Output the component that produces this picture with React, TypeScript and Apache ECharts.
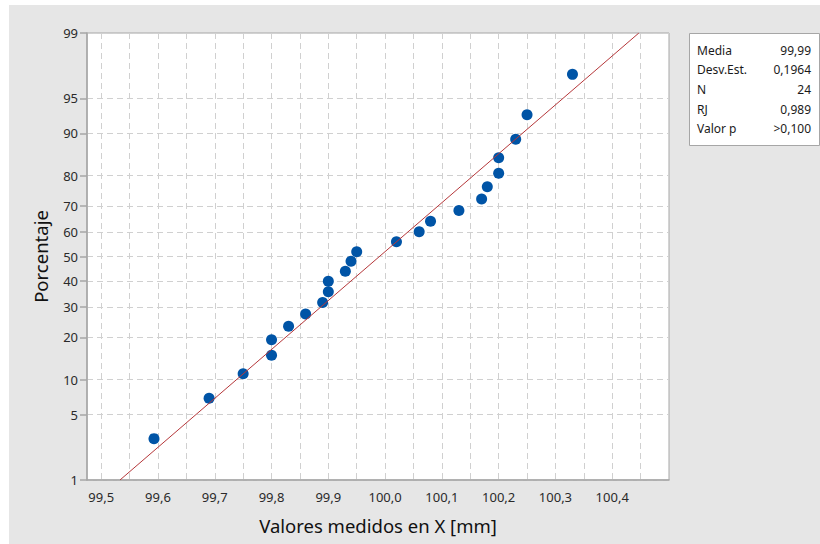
import React, { useEffect, useRef } from "react";
import * as echarts from "echarts";

// Data
const measuredValues = [
  99.593, 99.69, 99.75, 99.80, 99.80, 99.83, 99.86, 99.89, 99.90, 99.90, 99.93, 99.94,
  99.95, 100.02, 100.06, 100.08, 100.13, 100.17, 100.18, 100.20, 100.20, 100.23, 100.25, 100.33,
];
const percentValues = [
  2.9, 7.0, 11.1, 15.2, 19.3, 23.4, 27.5, 31.6, 35.7, 39.8, 43.9, 48.0,
  52.0, 56.1, 60.2, 64.3, 68.4, 72.5, 76.6, 80.7, 84.8, 88.9, 93.0, 97.1,
];
const percentTicks = [1, 5, 10, 20, 30, 40, 50, 60, 70, 80, 90, 95, 99];
const xLabelTicks = [99.5, 99.6, 99.7, 99.8, 99.9, 100.0, 100.1, 100.2, 100.3, 100.4];
const xGridTicks = [
  99.5, 99.55, 99.6, 99.65, 99.7, 99.75, 99.8, 99.85, 99.9, 99.95, 100.0,
  100.05, 100.1, 100.15, 100.2, 100.25, 100.3, 100.35, 100.4, 100.45,
];
const statLabels = ["Media", "Desv.Est.", "N", "RJ", "Valor p"];
const statValues = ["99,99", "0,1964", "24", "0,989", ">0,100"];
const fitMean = 99.99;
const fitSd = 0.1964;

// inverse standard normal CDF (Acklam)
function invNorm(p: number): number {
  const a = [-3.969683028665376e1, 2.209460984245205e2, -2.759285104469687e2, 1.38357751867269e2, -3.066479806614716e1, 2.506628277459239];
  const b = [-5.447609879822406e1, 1.615858368580409e2, -1.556989798598866e2, 6.680131188771972e1, -1.328068155288572e1];
  const c = [-7.784894002430293e-3, -3.223964580411365e-1, -2.400758277161838, -2.549732539343734, 4.374664141464968, 2.938163982698783];
  const d = [7.784695709041462e-3, 3.224671290700398e-1, 2.445134137142996, 3.754408661907416];
  const pl = 0.02425;
  if (p < pl) {
    const q = Math.sqrt(-2 * Math.log(p));
    return (((((c[0] * q + c[1]) * q + c[2]) * q + c[3]) * q + c[4]) * q + c[5]) / ((((d[0] * q + d[1]) * q + d[2]) * q + d[3]) * q + 1);
  }
  if (p > 1 - pl) {
    const q = Math.sqrt(-2 * Math.log(1 - p));
    return -(((((c[0] * q + c[1]) * q + c[2]) * q + c[3]) * q + c[4]) * q + c[5]) / ((((d[0] * q + d[1]) * q + d[2]) * q + d[3]) * q + 1);
  }
  const q = p - 0.5;
  const r = q * q;
  return ((((((a[0] * r + a[1]) * r + a[2]) * r + a[3]) * r + a[4]) * r + a[5]) * q) / (((((b[0] * r + b[1]) * r + b[2]) * r + b[3]) * r + b[4]) * r + 1);
}

export default function App() {
  const ref = useRef<HTMLDivElement>(null);
  useEffect(() => {
    if (!ref.current) return;
    const chart = echarts.init(ref.current, undefined, { renderer: "svg" });
    const zTicks = percentTicks.map((p) => invNorm(p / 100));
    const zLo = invNorm(0.01);
    const zHi = invNorm(0.99);
    const labelForZ = (v: number) => {
      let best = 0;
      let bd = Infinity;
      zTicks.forEach((z, i) => {
        const dd = Math.abs(z - v);
        if (dd < bd) { bd = dd; best = i; }
      });
      return String(percentTicks[best]);
    };
    const font = "'Noto Sans', 'Open Sans', sans-serif";
    const gridLine = { show: true, lineStyle: { color: "#d0d0d0", type: [6, 4] as any, width: 1 } };
    const points = measuredValues.map((x, i) => [x, invNorm(percentValues[i] / 100)]);
    const fitLine = [
      [fitMean + zLo * fitSd, zLo],
      [fitMean + zHi * fitSd, zHi],
    ];
    const boxX = 680, boxY = 28, boxW = 130, boxH = 112;
    const statTexts: any[] = [];
    statLabels.forEach((l, i) => {
      statTexts.push({
        type: "text", left: boxX + 8, top: boxY + 11 + i * 19.7,
        style: { text: l, fontSize: 12, fontFamily: font, fill: "#1a1a1a" },
      });
      statTexts.push({
        type: "text", right: 811 - (boxX + boxW - 8), top: boxY + 11 + i * 19.7,
        style: { text: statValues[i], fontSize: 12, fontFamily: font, fill: "#1a1a1a", align: "right" },
      });
    });
    chart.setOption({
      animation: false,
      backgroundColor: "#e6e6e6",
      textStyle: { fontFamily: font },
      grid: {
        left: 78, top: 28, right: 151, bottom: 64,
        show: true, backgroundColor: "#ffffff", borderColor: "#a6a6a6", borderWidth: 1,
      },
      xAxis: {
        type: "value", min: 99.475, max: 100.5,
        name: "Valores medidos en X [mm]", nameLocation: "middle", nameGap: 36,
        nameTextStyle: { fontSize: 18.5, color: "#111", fontFamily: font },
        axisLine: { show: true, onZero: false, lineStyle: { color: "#a6a6a6", width: 1.5 } },
        axisTick: { show: false, customValues: xGridTicks },
        axisLabel: {
          customValues: xLabelTicks, fontSize: 13, color: "#2a2a2a", margin: 10, fontFamily: font,
          formatter: (v: number) => v.toFixed(1).replace(".", ","),
        },
        splitLine: gridLine,
      },
      yAxis: {
        type: "value", min: zLo, max: zHi,
        name: "Porcentaje", nameLocation: "middle", nameGap: 37,
        nameTextStyle: { fontSize: 18.5, color: "#111", fontFamily: font },
        axisLine: { show: true, onZero: false, lineStyle: { color: "#a6a6a6", width: 1.5 } },
        axisTick: { show: true, length: 7, customValues: zTicks, lineStyle: { color: "#a6a6a6", width: 1.5 } },
        axisLabel: {
          customValues: zTicks, fontSize: 13, color: "#2a2a2a", margin: 9, fontFamily: font,
          formatter: (v: number) => labelForZ(v),
        },
        splitLine: gridLine,
      },
      series: [
        {
          type: "line", data: fitLine, symbol: "none", silent: true,
          lineStyle: { color: "#b5373a", width: 1 },
        },
        {
          type: "scatter", data: points, symbol: "circle", symbolSize: 11,
          itemStyle: { color: "#0054a6", opacity: 1 },
        },
      ],
      graphic: [
        {
          type: "rect", left: boxX, top: boxY,
          shape: { width: boxW, height: boxH },
          style: { fill: "#ffffff", stroke: "#a6a6a6", lineWidth: 1 },
        },
        ...statTexts,
      ],
    });
    return () => chart.dispose();
  }, []);
  return (
    <div
      ref={ref}
      style={{ position: "fixed", left: 9, top: 5, width: 811, height: 539 }}
    />
  );
}
